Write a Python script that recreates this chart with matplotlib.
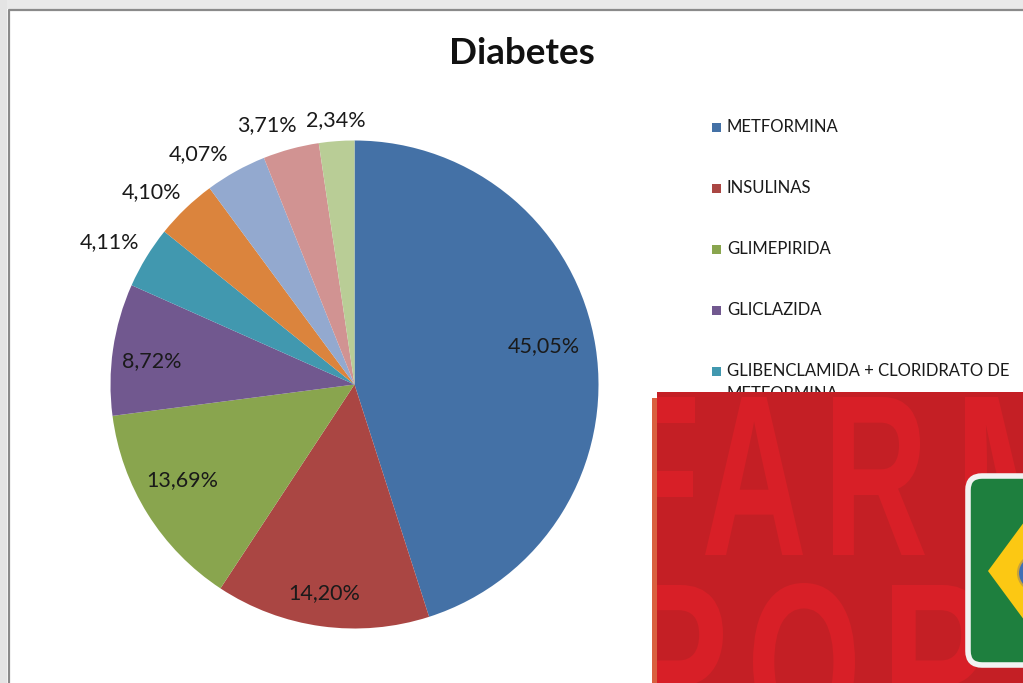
import matplotlib
matplotlib.use('Agg')
import matplotlib.pyplot as plt
from matplotlib.patches import Rectangle, FancyBboxPatch, Polygon, Circle, PathPatch
from matplotlib.textpath import TextPath
from matplotlib.font_manager import FontProperties
from matplotlib.transforms import Affine2D

plt.rcParams['font.family'] = ['Lato', 'DejaVu Sans']

W, H = 1023, 683

# so as 5 primeiras entradas da legenda aparecem, o resto esta coberto pelo selo
drugs = ['METFORMINA', 'INSULINAS', 'GLIMEPIRIDA', 'GLICLAZIDA',
         'GLIBENCLAMIDA + CLORIDRATO DE']
shares = [45.05, 14.20, 13.69, 8.72, 4.11, 4.10, 4.07, 3.71, 2.34]
share_labels = ['45,05%', '14,20%', '13,69%', '8,72%', '4,11%', '4,10%', '4,07%', '3,71%', '2,34%']
colors = ['#4471A6', '#AA4643', '#89A54E', '#71588F', '#4198AF',
          '#DB843D', '#93A9CF', '#D19392', '#B9CD96']

# onde cada rotulo fica na imagem (px)
label_xy = [(544, 346), (324, 593), (182, 480), (152, 361), (110, 242),
            (152, 192), (199, 154), (267, 125), (336, 120)]

fig = plt.figure(figsize=(W / 100, H / 100), dpi=100, facecolor='white')

# camada em pixels para moldura, textos e o selo
bg = fig.add_axes([0, 0, 1, 1], zorder=0)
bg.set_xlim(0, W)
bg.set_ylim(H, 0)
bg.axis('off')
bg.add_patch(Rectangle((0, 0), W, 9, color='#E9E9E9', lw=0))
bg.add_patch(Rectangle((0, 0), 7, H, color='#E4E4E4', lw=0))
bg.plot([8.5, 8.5, W], [H, 10, 10], color='#8A8A8A', lw=1.6)

# pizza: centro e raio medidos na imagem
cx, cy, r = 354.5, 384.5, 244
ax = fig.add_axes([(cx - r) / W, 1 - (cy + r) / H, 2 * r / W, 2 * r / H], zorder=1)
ax.pie(shares, colors=colors, startangle=90, counterclock=False, radius=1)
ax.set_xlim(-1, 1)
ax.set_ylim(-1, 1)

top = fig.add_axes([0, 0, 1, 1], zorder=2)
top.set_xlim(0, W)
top.set_ylim(H, 0)
top.axis('off')
top.patch.set_alpha(0)

top.text(522, 53, 'Diabetes', fontsize=26.5, fontweight='bold', ha='center', va='center', color='#111111')

for txt, (x, y) in zip(share_labels, label_xy):
    top.text(x, y, txt, fontsize=15.5, ha='center', va='center', color='#1A1A1A')

# legenda (o resto fica atras do selo vermelho)
legend_y = [127, 188, 249, 310, 371]
for name, col, y in zip(drugs, colors[:5], legend_y):
    top.add_patch(Rectangle((712, y - 4.5), 9, 9, color=col, lw=0))
    top.text(727, y, name, fontsize=12, ha='left', va='center', color='#1A1A1A')
top.text(727, 394, 'METFORMINA', fontsize=12, ha='left', va='center', color='#1A1A1A')

# selo "FARMACIA POPULAR" por cima do grafico
top.add_patch(Rectangle((652, 398), 6, 285, color='#D9603F', lw=0, zorder=3))
seal = Rectangle((657, 392), W - 657, H - 392, color='#C41F25', lw=0, zorder=3)
top.add_patch(seal)

fp = FontProperties(family='Liberation Sans', weight='bold')


def letter(ch, x0, y0, w, h):
    tp = TextPath((0, 0), ch, size=100, prop=fp)
    bb = tp.get_extents()
    tr = (Affine2D().translate(-bb.x0, -bb.y0).scale(w / bb.width, -h / bb.height)
          .translate(x0, y0 + h))
    p = PathPatch(tr.transform_path(tp), facecolor='#D81F27', edgecolor='none', zorder=4)
    top.add_patch(p)
    p.set_clip_path(seal)


letter('F', 620, 397, 75, 158)
letter('A', 705, 397, 98, 158)
letter('R', 833, 397, 92, 158)
letter('M', 965, 397, 120, 158)
letter('P', 630, 585, 93, 155)
letter('O', 753, 583, 102, 159)
letter('P', 892, 585, 93, 155)

# bandeira no canto
top.add_patch(FancyBboxPatch((968, 476), 90, 189, boxstyle='round,pad=0,rounding_size=14',
                             facecolor='#1E7F3E', edgecolor='#F2F2F2', lw=4, zorder=5))
top.add_patch(Polygon([(988, 571), (1030, 514), (1030, 628)], closed=True,
                      facecolor='#FCC813', edgecolor='none', zorder=6))
top.add_patch(Circle((1036, 573), 18, facecolor='#3F6FB5', edgecolor='#C8A23A', lw=1.5, zorder=7))
top.set_xlim(0, W)
top.set_ylim(H, 0)

fig.savefig('out.png', dpi=100)
